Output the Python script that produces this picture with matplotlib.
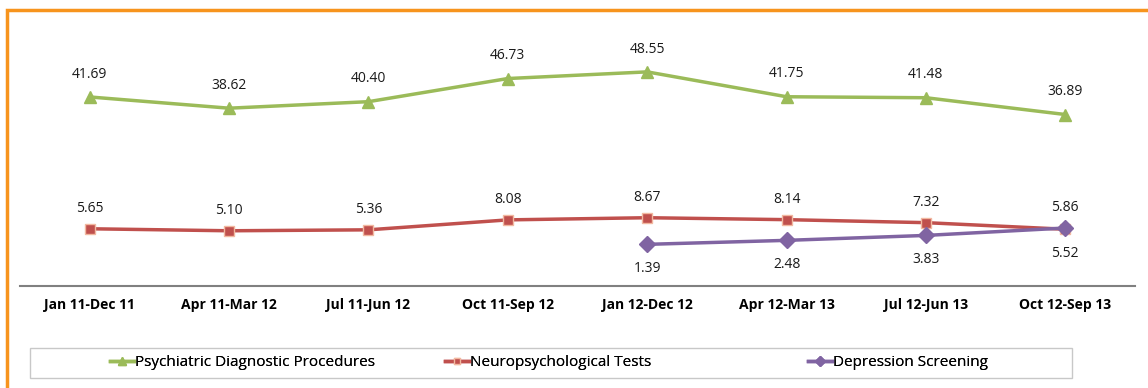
import matplotlib.pyplot as plt
from matplotlib.patches import Rectangle

periods = ["Jan 11-Dec 11", "Apr 11-Mar 12", "Jul 11-Jun 12", "Oct 11-Sep 12",
           "Jan 12-Dec 12", "Apr 12-Mar 13", "Jul 12-Jun 13", "Oct 12-Sep 13"]
psych_diag = [41.69, 38.62, 40.40, 46.73, 48.55, 41.75, 41.48, 36.89]
neuro_tests = [5.65, 5.10, 5.36, 8.08, 8.67, 8.14, 7.32, 5.52]
depression_idx = [4, 5, 6, 7]
depression = [1.39, 2.48, 3.83, 5.86]

plt.rcParams['font.family'] = ['Open Sans', 'DejaVu Sans']

W, H = 1148, 388
fig = plt.figure(figsize=(W / 100, H / 100), dpi=100)
ax = fig.add_axes([20 / W, 1 - 286 / H, (1135 - 20) / W, (286 - 30) / H])

x = list(range(len(periods)))
green, red, purple = "#9BBB59", "#C0504D", "#8064A2"

l1, = ax.plot(x, psych_diag, color=green, lw=2.5, marker="^", ms=8,
              mec=green, label="Psychiatric Diagnostic Procedures")
l2, = ax.plot(x, neuro_tests, color=red, lw=2.5, marker="s", ms=7,
              mec="#F2B8A0", mew=1, label="Neuropsychological Tests")
l3, = ax.plot(depression_idx, depression, color=purple, lw=2.5, marker="D", ms=8,
              mec=purple, label="Depression Screening", zorder=3)

lbl = dict(ha="center", fontsize=10, color="#1a1a1a")
for i, v in zip(x, psych_diag):
    ax.annotate(f"{v:.2f}", (i, v), xytext=(0, 11), textcoords="offset points", va="bottom", **lbl)
for i, v in zip(x, neuro_tests):
    if i == len(x) - 1:
        ax.annotate(f"{v:.2f}", (i, v), xytext=(0, -12), textcoords="offset points", va="top", **lbl)
    else:
        ax.annotate(f"{v:.2f}", (i, v), xytext=(0, 9), textcoords="offset points", va="bottom", **lbl)
for i, v in zip(depression_idx, depression):
    if i == len(x) - 1:
        ax.annotate(f"{v:.2f}", (i, v), xytext=(0, 9), textcoords="offset points", va="bottom", **lbl)
    else:
        ax.annotate(f"{v:.2f}", (i, v), xytext=(0, -12), textcoords="offset points", va="top", **lbl)

ax.set_xlim(-0.5, len(x) - 0.5)
ax.set_ylim(-10, 60)
ax.set_xticks(x)
ax.set_xticklabels(periods, fontsize=10, fontweight="bold")
ax.tick_params(axis="x", length=0, pad=9)
ax.set_yticks([])
for s in ["top", "right", "left"]:
    ax.spines[s].set_visible(False)
ax.spines["bottom"].set_color("#808080")
ax.spines["bottom"].set_linewidth(1.5)

# legend box with one entry per column
fig.patches.append(Rectangle((30 / W, 1 - 378 / H), (1072 - 30) / W, 30 / H,
                             transform=fig.transFigure, fill=False, ec="#c8c8c8", lw=1))
for line, left in zip([l1, l2, l3], [110, 445, 808]):
    lg = fig.legend(handles=[line], loc="center left", bbox_to_anchor=(left / W, 1 - 363 / H),
                    frameon=False, fontsize=11, handlelength=1.6, handletextpad=0.05,
                    borderpad=0, borderaxespad=0, markerscale=0.65)
    fig.add_artist(lg)

fig.patches.append(Rectangle((7 / W, -0.1), 1.2, 1 - 10 / H + 0.1, transform=fig.transFigure,
                             fill=False, ec="#F7941D", lw=2.5))

fig.savefig("out.png", dpi=100)
